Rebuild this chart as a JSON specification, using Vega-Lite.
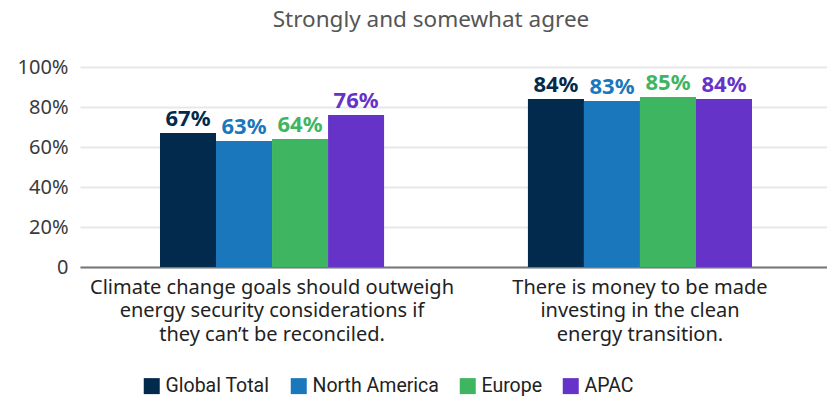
{
  "$schema": "https://vega.github.io/schema/vega-lite/v6.json",
  "autosize": {"type": "none"},
  "width": 752,
  "height": 200,
  "padding": {"left": 80, "top": 67, "right": 0, "bottom": 130},
  "title": {
    "text": "Strongly and somewhat agree",
    "anchor": "middle",
    "frame": "group",
    "dx": -25,
    "offset": 8,
    "baseline": "alphabetic",
    "fontSize": 22.5,
    "font": "Noto Sans",
    "fontWeight": "normal",
    "color": "#555555"
  },
  "data": {
    "values": [
      {"question": "Climate change goals should outweigh|energy security considerations if|they can’t be reconciled.", "region": "Global Total", "value": 0.67},
      {"question": "Climate change goals should outweigh|energy security considerations if|they can’t be reconciled.", "region": "North America", "value": 0.63},
      {"question": "Climate change goals should outweigh|energy security considerations if|they can’t be reconciled.", "region": "Europe", "value": 0.64},
      {"question": "Climate change goals should outweigh|energy security considerations if|they can’t be reconciled.", "region": "APAC", "value": 0.76},
      {"question": "There is money to be made|investing in the clean|energy transition.", "region": "Global Total", "value": 0.84},
      {"question": "There is money to be made|investing in the clean|energy transition.", "region": "North America", "value": 0.83},
      {"question": "There is money to be made|investing in the clean|energy transition.", "region": "Europe", "value": 0.85},
      {"question": "There is money to be made|investing in the clean|energy transition.", "region": "APAC", "value": 0.84}
    ]
  },
  "encoding": {
    "x": {
      "field": "question",
      "type": "nominal",
      "sort": null,
      "title": null,
      "scale": {"paddingInner": 0.391, "paddingOuter": 0.2174},
      "axis": {
        "labelExpr": "split(datum.label, '|')",
        "labelAngle": 0,
        "labelFontSize": 20,
        "labelFont": "Noto Sans",
        "labelColor": "#222222",
        "labelLineHeight": 23.5,
        "labelPadding": 10,
        "labelLimit": 500,
        "ticks": false,
        "domainColor": "#777777",
        "domainWidth": 2
      }
    },
    "xOffset": {
      "field": "region",
      "type": "nominal",
      "sort": ["Global Total", "North America", "Europe", "APAC"],
      "scale": {"paddingInner": 0, "paddingOuter": 0}
    },
    "y": {
      "field": "value",
      "type": "quantitative",
      "title": null,
      "scale": {"domain": [0, 1]},
      "axis": {
        "values": [0, 0.2, 0.4, 0.6, 0.8, 1],
        "labelExpr": "datum.value == 0 ? '0' : format(datum.value, '.0%')",
        "labelFontSize": 20,
        "labelFont": "Noto Sans",
        "labelColor": "#3a3a3a",
        "labelPadding": 12,
        "ticks": false,
        "domain": false,
        "gridColor": "#e8e8e8",
        "gridWidth": 2
      }
    },
    "color": {
      "field": "region",
      "type": "nominal",
      "sort": ["Global Total", "North America", "Europe", "APAC"],
      "scale": {
        "domain": ["Global Total", "North America", "Europe", "APAC"],
        "range": ["#012A4C", "#1B77BB", "#3EB561", "#6633C9"]
      },
      "legend": {
        "title": null,
        "orient": "none",
        "direction": "horizontal",
        "legendX": 62,
        "legendY": 309,
        "symbolType": "square",
        "symbolSize": 256,
        "symbolStrokeWidth": 0,
        "labelFontSize": 19.5,
        "labelFont": "Roboto",
        "labelColor": "#222222",
        "columnPadding": 19,
        "labelOffset": 4
      }
    }
  },
  "layer": [
    {"mark": {"type": "bar"}},
    {
      "mark": {
        "type": "text",
        "baseline": "bottom",
        "dy": -2,
        "fontSize": 22,
        "fontWeight": "bold",
        "font": "Noto Sans"
      },
      "encoding": {
        "text": {"field": "value", "type": "quantitative", "format": ".0%"}
      }
    }
  ],
  "config": {
    "view": {"stroke": null}
  }
}
